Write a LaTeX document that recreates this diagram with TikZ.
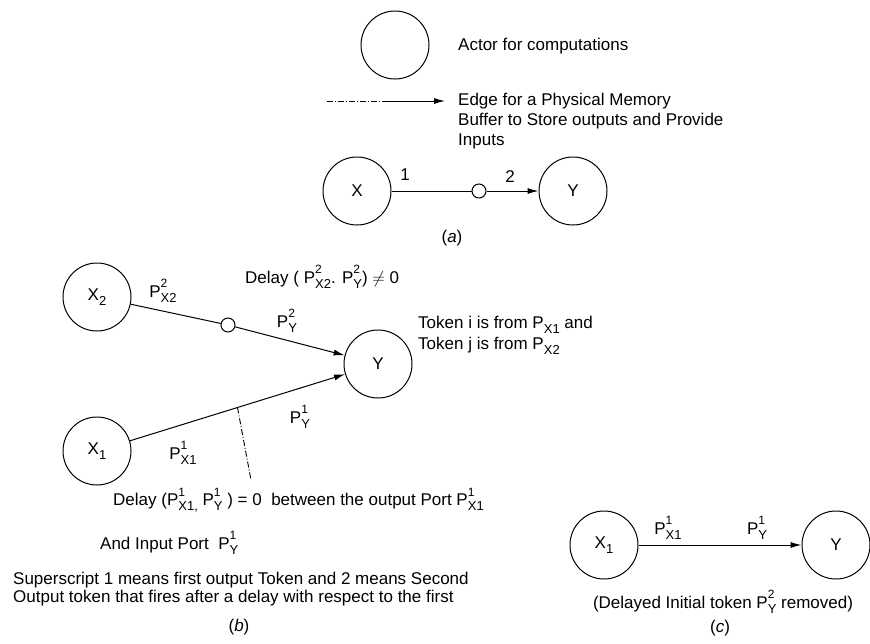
\documentclass[tikz,border=0pt]{standalone}
\usepackage{fontspec}
\setmainfont{Liberation Sans}
\usetikzlibrary{arrows.meta}
\newcommand{\mysub}[1]{\raisebox{-0.3em}{\fontsize{13}{13}\selectfont #1}}
\newcommand{\PSS}[2]{P\rlap{\raisebox{0.55em}{\fontsize{12}{12}\selectfont #1}}\mysub{#2}}
\begin{document}
\begin{tikzpicture}[x=1pt,y=-1pt,
  every node/.style={font=\fontsize{17}{18}\selectfont},
  actor/.style={circle,draw,line width=1pt,minimum size=68pt,inner sep=0pt},
  buf/.style={circle,draw,line width=1pt,minimum size=14pt,inner sep=0pt},
  edge/.style={line width=1pt},
  dashdot/.style={line width=0.9pt,dash pattern=on 6pt off 2pt on 1pt off 2pt},
  arr/.style={line width=1pt,-{Latex[length=11pt,width=6pt]}},
  lbl/.style={inner sep=0pt},
  txt/.style={inner sep=0pt,anchor=west,align=left}
]
\useasboundingbox (0,0) rectangle (870,643);

% legend
\node[actor] (legC) at (395,45) {};
\node[txt] (legT1) at (458,46) {Actor for computations};
\coordinate (le1) at (327,101);
\coordinate (le2) at (385,101);
\coordinate (le3) at (445,101);
\draw[dashdot] (le1) -- (le2);
\draw[arr] (le2) -- (le3);
\node[txt,font=\fontsize{17}{20}\selectfont] (legT2) at (458,121) {Edge for a Physical Memory\\Buffer to Store outputs and Provide\\Inputs};

% (a)
\node[actor] (aX) at (357,191) {X};
\node[buf] (aB) at (479,191) {};
\node[actor] (aY) at (573,191) {Y};
\draw[edge] (aX) -- (aB);
\draw[arr] (aB) -- (aY);
\node[lbl] (a1) at (405,175) {1};
\node[lbl] (a2) at (510,177) {2};
\node[lbl] (acap) at (452,238) {(\textit{a})};

% (b)
\node[actor] (bX2) at (97,297) {X\mysub{2}};
\node[buf] (bB) at (228,325) {};
\node[actor] (bY) at (378,364) {Y};
\node[actor] (bX1) at (97,451) {X\mysub{1}};
\draw[edge] (bX2) -- (bB);
\draw[arr] (bB) -- (bY);
\draw[arr] (bX1) -- (bY) coordinate[pos=0.5] (bm);
\coordinate (bd) at (251,480);
\draw[dashdot] (bm) -- (bd);

\node[lbl] (bl1) at (163,291) {\PSS{2}{X2}};
\node[txt] (bl2) at (245,277) {Delay ( \PSS{2}{X2}. \PSS{2}{Y}) $\neq$ 0};
\node[lbl] (bl3) at (287,321) {\PSS{2}{Y}};
\node[lbl] (bl4) at (300,417) {\PSS{1}{Y}};
\node[lbl] (bl5) at (183,453) {\PSS{1}{X1}};
\node[txt] (bl6) at (418,325) {Token i is from P\mysub{X1} and};
\node[txt] (bl7) at (418,346) {Token j is from P\mysub{X2}};
\node[txt] (bl8) at (113,500) {Delay (\PSS{1}{X1,} \PSS{1}{Y} ) = 0\ \ between the output Port \PSS{1}{X1}};
\node[txt] (bl9) at (100,543) {And Input Port\ \ \PSS{1}{Y}};
\node[txt] (bl10) at (13,589) {Superscript 1 means first output Token and 2 means Second\\Output token that fires after a delay with respect to the first};
\node[lbl] (bcap) at (239,627) {(\textit{b})};

% (c)
\node[actor] (cX) at (604,545) {X\mysub{1}};
\node[actor] (cY) at (836,545) {Y};
\draw[arr] (cX) -- (cY);
\node[lbl] (cl1) at (668,528) {\PSS{1}{X1}};
\node[lbl] (cl2) at (757,528) {\PSS{1}{Y}};
\node[lbl] (cl3) at (723,602) {(Delayed Initial token \PSS{2}{Y} removed)};
\node[lbl] (ccap) at (720,628) {(\textit{c})};
\end{tikzpicture}
\end{document}
